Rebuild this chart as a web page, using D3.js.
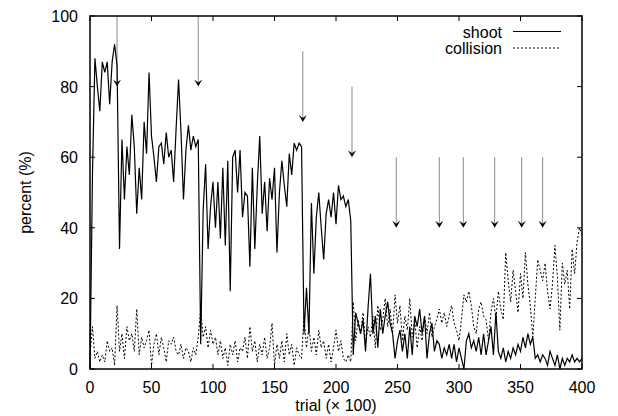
<!DOCTYPE html>
<html>
<head>
<meta charset="utf-8">
<script src="https://cdn.jsdelivr.net/npm/d3@7"></script>
<style>
  body { margin: 0; background: #fff; }
  text { font-family: "Liberation Sans", Arial, sans-serif; font-size: 16px; fill: #000; }
</style>
</head>
<body>
<script>

// trial (x 100), sampled every 2
var trialStep = 2;

// shoot (%), rows of 10 -> x = 0..18, 20..38, ...
var shoot = [
  0,55,88,80,73,87,84,87,75,87,
  92,86,34,65,48,63,55,72,63,44,
  57,48,70,61,84,66,60,53,63,64,
  58,67,60,62,53,68,82,67,48,62,
  69,62,66,63,65,7,45,58,34,46,
  53,40,53,37,57,35,59,22,60,62,
  50,62,43,50,49,29,57,34,52,66,
  44,53,39,54,48,57,33,50,59,52,
  46,61,55,64,62,64,63,10,23,10,
  47,27,43,50,40,31,44,48,43,50,
  41,52,48,49,46,48,42,4,16,13,
  10,14,5,17,27,10,15,6,17,10,
  15,19,13,10,3,8,11,5,10,3,
  12,4,15,12,17,10,15,3,10,13,
  5,8,7,3,6,4,7,3,7,2,
  6,3,0,8,10,6,8,5,9,4,
  10,4,8,12,4,16,5,3,6,2,
  5,3,6,4,7,5,9,6,10,7,
  9,3,4,2,4,3,1,5,3,1,
  4,0,3,1,3,2,4,2,3,2,
  3
];

// collision (%)
var collision = [
  4,12,3,5,2,4,2,8,5,6,
  1,18,5,10,3,12,8,10,5,17,
  4,9,6,8,11,1,7,10,4,9,
  6,2,8,7,9,5,4,7,3,6,
  5,2,6,4,9,17,9,12,6,11,
  7,9,4,8,3,6,1,7,4,8,
  2,6,5,9,3,12,5,8,2,7,
  4,9,3,6,13,1,7,3,8,2,
  10,4,7,1,6,4,3,15,6,12,
  5,9,4,11,6,8,3,7,2,6,
  11,5,8,3,2,4,2,19,8,14,
  10,16,7,12,9,15,6,18,11,14,
  20,12,17,10,21,13,18,8,15,11,
  20,9,14,6,12,8,15,10,16,9,
  12,14,17,13,16,12,15,18,13,11,
  8,14,21,19,22,18,12,10,17,19,
  15,14,8,16,20,14,22,17,14,33,
  25,19,28,22,16,27,20,33,24,18,
  9,20,31,28,25,30,22,17,24,35,
  26,11,30,24,28,17,34,27,36,40,
  38
];

// arrows: trial position, from %, to %
var arrowX    = [22, 88, 173, 213, 249, 284, 303.5, 329, 351, 368];
var arrowFrom = [100, 100, 90, 80, 60, 60, 60, 60, 60, 60];
var arrowTo   = [80, 80, 70, 60, 40, 40, 40, 40, 40, 40];

var xTicks = [0, 50, 100, 150, 200, 250, 300, 350, 400];
var yTicks = [0, 20, 40, 60, 80, 100];
var seriesNames = ["shoot", "collision"];

var width = 618,
    height = 416;
var margin = {left: 90, right: 36, top: 16, bottom: 47};

var svg = d3.select("body").append("svg")
    .attr("width", width)
    .attr("height", height);

var x = d3.scaleLinear().domain([0, 400]).range([margin.left, width - margin.right]);
var y = d3.scaleLinear().domain([0, 100]).range([height - margin.bottom, margin.top]);

var line = d3.line()
    .x(function(d, i) { return x(i * trialStep); })
    .y(function(d) { return y(d); });

// ticks (inward, mirrored)
var tickLen = 5;
var g = svg.append("g").attr("stroke", "#000").attr("stroke-width", 1);
xTicks.forEach(function(t) {
  g.append("line").attr("x1", x(t)).attr("x2", x(t)).attr("y1", y(0)).attr("y2", y(0) - tickLen);
  g.append("line").attr("x1", x(t)).attr("x2", x(t)).attr("y1", y(100)).attr("y2", y(100) + tickLen);
});
yTicks.forEach(function(t) {
  g.append("line").attr("x1", x(0)).attr("x2", x(0) + tickLen).attr("y1", y(t)).attr("y2", y(t));
  g.append("line").attr("x1", x(400)).attr("x2", x(400) - tickLen).attr("y1", y(t)).attr("y2", y(t));
});

// tick labels
svg.append("g").selectAll("text").data(xTicks).enter().append("text")
    .attr("x", function(d) { return x(d); })
    .attr("y", y(0) + 24)
    .attr("text-anchor", "middle")
    .text(function(d) { return d; });
svg.append("g").selectAll("text").data(yTicks).enter().append("text")
    .attr("x", x(0) - 12)
    .attr("y", function(d) { return y(d) + 6; })
    .attr("text-anchor", "end")
    .text(function(d) { return d; });

// axis titles
svg.append("text")
    .attr("transform", "translate(31," + ((y(0) + y(100)) / 2) + ") rotate(-90)")
    .attr("text-anchor", "middle")
    .text("percent (%)");
svg.append("text")
    .attr("x", (x(0) + x(400)) / 2)
    .attr("y", 411)
    .attr("text-anchor", "middle")
    .text("trial (\u00d7 100)");

// arrows
arrowX.forEach(function(ax, i) {
  var px = x(ax), y0 = y(arrowFrom[i]), y1 = y(arrowTo[i]);
  svg.append("line")
      .attr("x1", px).attr("x2", px)
      .attr("y1", y0).attr("y2", y1 - 4)
      .attr("stroke", "#8a8a8a").attr("stroke-width", 1);
  svg.append("path")
      .attr("d", "M" + px + "," + y1 + "l-4,-7l4,3l4,-3z")
      .attr("fill", "#000");
});

// series
svg.append("path")
    .datum(collision)
    .attr("d", line)
    .attr("fill", "none")
    .attr("stroke", "#000")
    .attr("stroke-width", 1)
    .attr("stroke-dasharray", "2,2");

svg.append("path")
    .datum(shoot)
    .attr("d", line)
    .attr("fill", "none")
    .attr("stroke", "#000")
    .attr("stroke-width", 1.2)
    .attr("stroke-linejoin", "miter");

// legend
var legY = [31.5, 48];
seriesNames.forEach(function(name, i) {
  svg.append("text")
      .attr("x", 502)
      .attr("y", legY[i] + 6)
      .attr("text-anchor", "end")
      .text(name);
  svg.append("line")
      .attr("x1", 513).attr("x2", 561)
      .attr("y1", legY[i]).attr("y2", legY[i])
      .attr("stroke", "#000")
      .attr("stroke-width", 1)
      .attr("stroke-dasharray", i === 0 ? null : "2,2");
});

// frame
svg.append("rect")
    .attr("x", x(0)).attr("y", y(100))
    .attr("width", x(400) - x(0)).attr("height", y(0) - y(100))
    .attr("fill", "none")
    .attr("stroke", "#000")
    .attr("stroke-width", 1.5);

</script>
</body>
</html>
